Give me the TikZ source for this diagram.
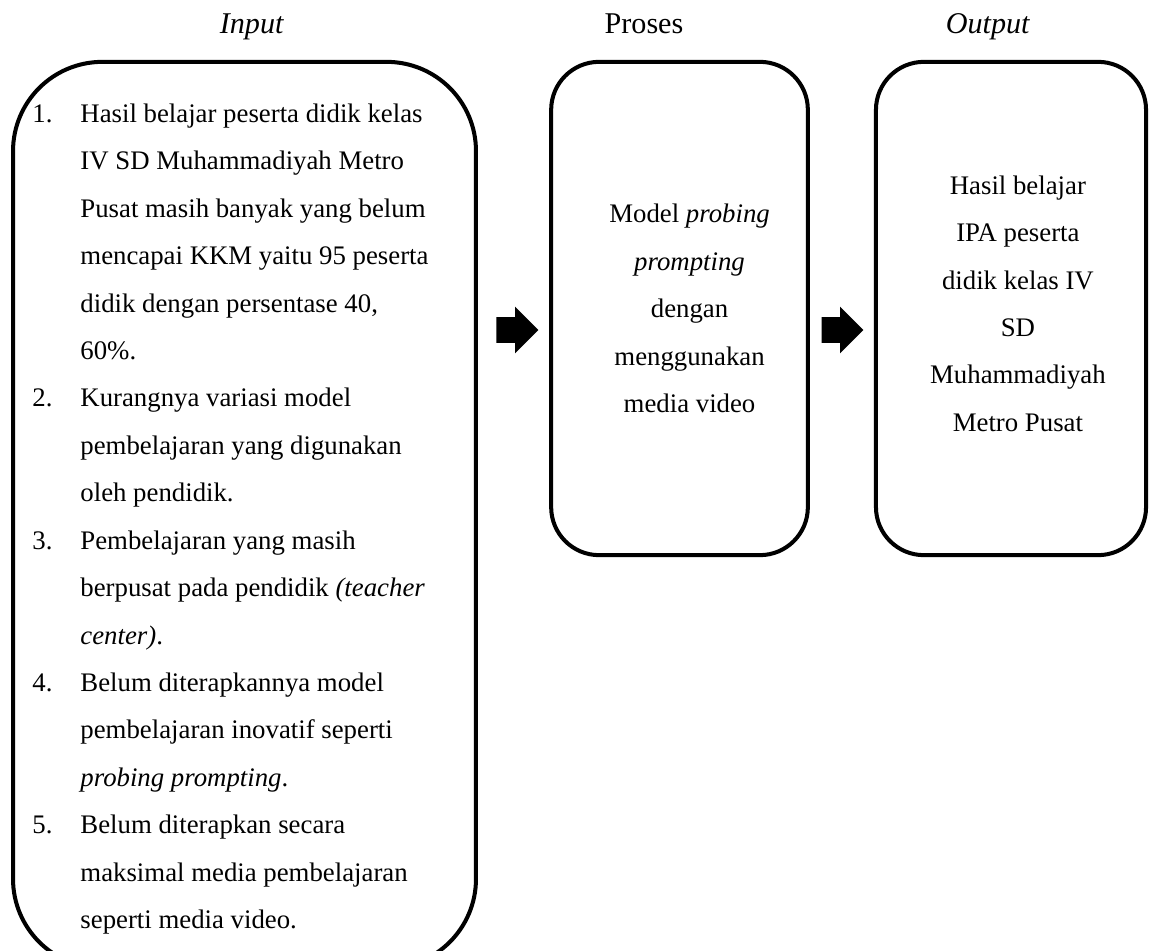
\documentclass[tikz,border=0pt]{standalone}
\usepackage{fontspec}
\setmainfont{Liberation Serif}
\usetikzlibrary{shapes.arrows, positioning}

\tikzset{
    box/.style={draw, line width=1.8pt, rounded corners=21.5pt, inner sep=0pt,
        minimum height=221pt},
    boxtext/.style={align=center, inner sep=0pt, font=\fontsize{12}{21.25}\selectfont},
    inbox/.style={draw, line width=1.8pt, rounded corners=40pt, inner sep=0pt,
        minimum width=207.4pt, minimum height=406pt},
    intext/.style={inner sep=0pt, align=flush left, text width=190pt,
        font=\fontsize{12}{21.25}\selectfont},
    title/.style={anchor=base, font=\fontsize{13.5}{16}\selectfont},
    blockarrow/.style={single arrow, fill=black, draw=none, inner xsep=0pt,
        inner ysep=5.6pt, minimum height=18.8pt, single arrow head extend=4.7pt}
}
\newcommand{\num}[1]{\makebox[21.5pt][l]{#1}}
\newcommand{\ind}{\hspace*{21.5pt}}

\begin{document}
\begin{tikzpicture}[x=0.448pt, y=-0.448pt]
    \clip (0,0) rectangle (1153,951);

    % Titles
    \node[title] (tin) at (252,34) {\textit{Input}};
    \node[title] (tpro) at (644,34) {Proses};
    \node[title] (tout) at (988,34) {\textit{Output}};

    % Input box
    \node[inbox] (input) at (244.5,515) {};
    \node[intext] (inputtxt) at ([yshift=-1.8pt]input.center) {%
        \num{1.}Hasil belajar peserta didik kelas\\
        \ind IV SD Muhammadiyah Metro\\
        \ind Pusat masih banyak yang belum\\
        \ind mencapai KKM yaitu 95 peserta\\
        \ind didik dengan persentase 40,\\
        \ind 60\%.\\
        \num{2.}Kurangnya variasi model\\
        \ind pembelajaran yang digunakan\\
        \ind oleh pendidik.\\
        \num{3.}Pembelajaran yang masih\\
        \ind berpusat pada pendidik \textit{(teacher}\\
        \ind \textit{center)}.\\
        \num{4.}Belum diterapkannya model\\
        \ind pembelajaran inovatif seperti\\
        \ind \textit{probing prompting}.\\
        \num{5.}Belum diterapkan secara\\
        \ind maksimal media pembelajaran\\
        \ind seperti media video.};

    % Proses and output boxes
    \node[box, minimum width=115pt] (proses) at (679.5,308.5) {};
    \node[boxtext] (prosestxt) at ([xshift=4.5pt]proses.center)
        {Model \textit{probing}\\ \textit{prompting}\\ dengan\\ menggunakan\\ media video};
    \node[box, minimum width=121pt] (output) at (1011,308.5) {};
    \node[boxtext] (outputtxt) at ([xshift=3.1pt,yshift=2.2pt]output.center)
        {Hasil belajar\\ IPA peserta\\ didik kelas IV\\ SD\\ Muhammadiyah\\ Metro Pusat};

    % Arrows
    \node[blockarrow] (arrA) at (511,330) {};
    \node[blockarrow] (arrB) at (836,330) {};
\end{tikzpicture}
\end{document}
